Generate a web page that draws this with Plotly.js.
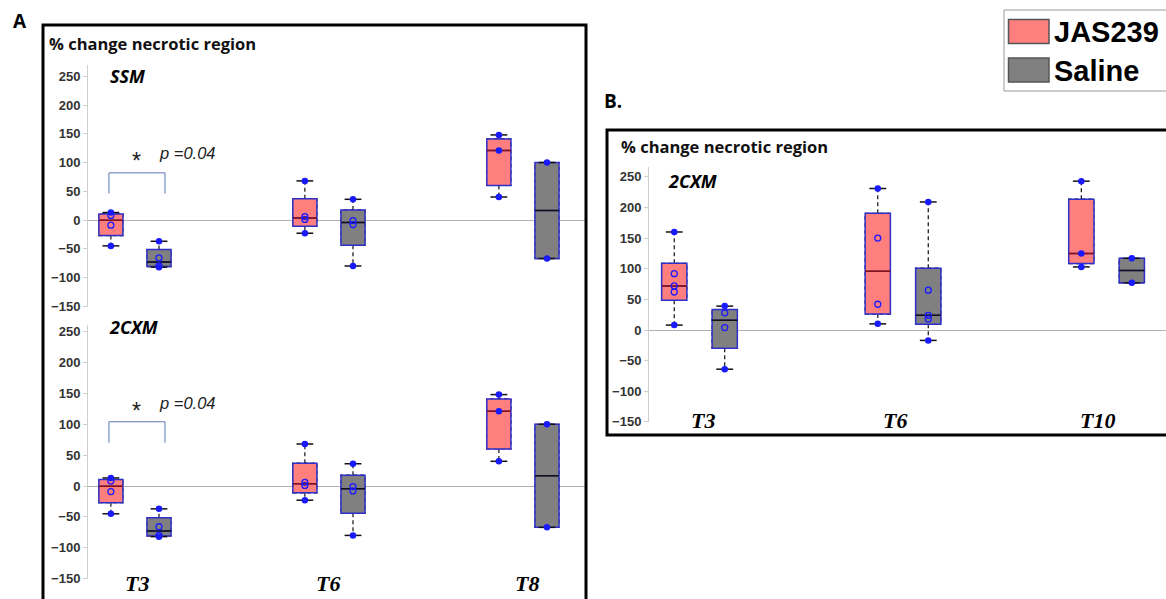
<!DOCTYPE html>
<html><head><meta charset="utf-8">
<script src="https://cdn.plot.ly/plotly-3.0.1.min.js"></script>
<style>html,body{margin:0;padding:0;background:#fff;} #chart{width:1166px;height:599px;}</style>
</head><body><div id="chart"></div>
<script>
// ---------- DATA ----------
const categoriesA = ['T3', 'T6', 'T8'];
const categoriesB = ['T3', 'T6', 'T10'];
const yTickVals = [-150, -100, -50, 0, 50, 100, 150, 200, 250];

// Panel A (SSM and 2CXM show the same values)
const jasA_q1 = [-27, -11, 60];
const jasA_median = [-0.5, 3.5, 121];
const jasA_q3 = [10.5, 37, 141];
const jasA_lower = [-45, -23, 40];
const jasA_upper = [13, 68, 148];
const jasA_filled = [[13, -45], [68, -23], [148, 121, 40]];
const jasA_open = [[8, -9], [6, 1], []];

const salA_q1 = [-81, -44, -67];
const salA_median = [-73, -4.5, 16.5];
const salA_q3 = [-51.5, 17.5, 100];
const salA_lower = [-82, -80, -67];
const salA_upper = [-37, 36, 100];
const salA_filled = [[-37, -82], [36, -80], [100, -67]];
const salA_open = [[-66, -80], [-1, -8], []];

// Panel B (2CXM)
const jasB_q1 = [48.5, 26, 108.5];
const jasB_median = [72, 96, 125];
const jasB_q3 = [109, 190.5, 213.5];
const jasB_lower = [8, 10, 103];
const jasB_upper = [160, 231, 243];
const jasB_filled = [[160, 8], [231, 10], [243, 125, 103]];
const jasB_open = [[92, 72, 62], [150, 42], []];

const salB_q1 = [-30, 9.25, 77];
const salB_median = [16, 24, 97];
const salB_q3 = [33.5, 101, 117];
const salB_lower = [-64, -17, 77];
const salB_upper = [39, 209, 117];
const salB_filled = [[39, -64], [209, -17], [117, 77]];
const salB_open = [[28, 4], [65, 24, 18], []];

// ---------- STYLE ----------
const W = 1166, H = 599;
const px = v => v / W;
const py = v => 1 - v / H;
const JAS_FILL = '#ff7f7f', SAL_FILL = '#808080';
const BOX_LINE = '#2e2ec8', PT_COLOR = '#1a1aff';

function group(xa, ya, cats, s, fill, medColor, og) {
  const base = {type: 'box', x: cats, xaxis: xa, yaxis: ya, orientation: 'v', offsetgroup: og,
                alignmentgroup: xa, hoverinfo: 'skip', showlegend: false};
  const stats = {q1: s.q1, median: s.median, q3: s.q3, lowerfence: s.lower, upperfence: s.upper};
  const inv = {line: {color: 'rgba(0,0,0,0)', width: 0}, fillcolor: 'rgba(0,0,0,0)'};
  return [
    Object.assign({}, base, stats, {meta: 'whisker', boxpoints: false, whiskerwidth: 0,
      line: {color: '#111', width: 1.2}, fillcolor: 'rgba(0,0,0,0)'}),
    Object.assign({}, base, {q1: s.q1, median: s.median, q3: s.q3, lowerfence: s.q1, upperfence: s.q3,
      boxpoints: false, whiskerwidth: 0, line: {color: BOX_LINE, width: 1.5}, fillcolor: fill}),
    Object.assign({}, base, {q1: s.median, median: s.median, q3: s.median, lowerfence: s.median, upperfence: s.median,
      boxpoints: false, whiskerwidth: 0, line: {color: medColor, width: 1.5}, fillcolor: 'rgba(0,0,0,0)'}),
    Object.assign({}, base, stats, inv, {y: s.lower.map((l, i) => [l, s.upper[i]]), boxpoints: 'all', jitter: 0, pointpos: 0,
      whiskerwidth: 0, marker: {symbol: 'line-ew', size: 12, color: '#111', line: {color: '#111', width: 1.5}}}),
    Object.assign({}, base, stats, inv, {y: s.filled, boxpoints: 'all', jitter: 0, pointpos: 0, whiskerwidth: 0,
      marker: {symbol: 'circle', size: 6.5, color: PT_COLOR}}),
    Object.assign({}, base, stats, inv, {y: s.open, boxpoints: 'all', jitter: 0, pointpos: 0, whiskerwidth: 0,
      marker: {symbol: 'circle-open', size: 6, color: PT_COLOR, line: {width: 1.3, color: PT_COLOR}}})
  ];
}

const A_jas = {q1: jasA_q1, median: jasA_median, q3: jasA_q3, lower: jasA_lower, upper: jasA_upper, filled: jasA_filled, open: jasA_open};
const A_sal = {q1: salA_q1, median: salA_median, q3: salA_q3, lower: salA_lower, upper: salA_upper, filled: salA_filled, open: salA_open};
const B_jas = {q1: jasB_q1, median: jasB_median, q3: jasB_q3, lower: jasB_lower, upper: jasB_upper, filled: jasB_filled, open: jasB_open};
const B_sal = {q1: salB_q1, median: salB_median, q3: salB_q3, lower: salB_lower, upper: salB_upper, filled: salB_filled, open: salB_open};

const traces = [].concat(
  group('x', 'y', categoriesA, A_jas, JAS_FILL, '#8b1010', 'jas'),
  group('x', 'y', categoriesA, A_sal, SAL_FILL, '#111111', 'sal'),
  group('x2', 'y2', categoriesA, A_jas, JAS_FILL, '#8b1010', 'jas'),
  group('x2', 'y2', categoriesA, A_sal, SAL_FILL, '#111111', 'sal'),
  group('x3', 'y3', categoriesB, B_jas, JAS_FILL, '#8b1010', 'jas'),
  group('x3', 'y3', categoriesB, B_sal, SAL_FILL, '#111111', 'sal')
);

function yax(domain, range, anchor) {
  return {domain, range, anchor, tickvals: yTickVals, showline: true, linecolor: '#cfcfcf', linewidth: 1,
    ticks: 'outside', ticklen: 4, tickcolor: '#cfcfcf',
    tickfont: {family: 'Liberation Sans, Arial', size: 13, color: '#333333', weight: 'bold'},
    zeroline: true, zerolinecolor: '#b0b0b0', zerolinewidth: 1, showgrid: false, fixedrange: true};
}
function xax(domain, range, anchor, cats) {
  return {domain, range, anchor, type: 'category', categoryarray: cats, showticklabels: false, ticks: '',
    showline: false, showgrid: false, zeroline: false, fixedrange: true};
}

const calibri = 'Open Sans, Lato, sans-serif';
function txt(x, y, text, font, xanchor) {
  return {xref: 'paper', yref: 'paper', x: px(x), y: py(y), text, showarrow: false,
    xanchor: xanchor || 'left', yanchor: 'middle', font};
}
const tFont = {family: 'Liberation Serif, Times New Roman, serif', size: 22, color: '#000', weight: 'bold', style: 'italic'};
function tLabel(xref, yref, x, y, text, xs) {
  return {xref, yref: 'paper', x, y: py(y), text, showarrow: false, xanchor: 'center', yanchor: 'middle', xshift: xs || 0, font: tFont};
}

const annotations = [
  txt(20, 21, 'A', {family: calibri, size: 19, color: '#000', weight: 'bold'}, 'center'),
  txt(613, 101, 'B.', {family: calibri, size: 19, color: '#000', weight: 'bold'}, 'center'),
  txt(47, 43, '% change necrotic region', {family: calibri, size: 16.5, color: '#111', weight: 'bold'}),
  txt(619, 146, '% change necrotic region', {family: calibri, size: 16.5, color: '#111', weight: 'bold'}),
  txt(108, 76, 'SSM', {family: calibri, size: 18, color: '#000', weight: 'bold', style: 'italic'}),
  txt(107, 327, '2CXM', {family: calibri, size: 18, color: '#000', weight: 'bold', style: 'italic'}),
  txt(666, 181, '2CXM', {family: calibri, size: 18, color: '#000', weight: 'bold', style: 'italic'}),
  txt(136, 161, '*', {family: 'Liberation Sans, Arial', size: 23, color: '#222'}, 'center'),
  txt(157, 153, 'p =0.04', {family: 'Liberation Sans, Arial', size: 16.5, color: '#222', style: 'italic'}),
  txt(136, 411, '*', {family: 'Liberation Sans, Arial', size: 23, color: '#222'}, 'center'),
  txt(157, 403, 'p =0.04', {family: 'Liberation Sans, Arial', size: 16.5, color: '#222', style: 'italic'}),
  tLabel('x2', 'paper', 'T3', 583, 'T3', 2),
  tLabel('x2', 'paper', 'T6', 583, 'T6', -1),
  tLabel('x2', 'paper', 'T8', 583, 'T8', 4),
  tLabel('x3', 'paper', 'T3', 420, 'T3', 4),
  tLabel('x3', 'paper', 'T6', 420, 'T6', -8),
  tLabel('x3', 'paper', 'T10', 420, 'T10', -9),
  txt(1052, 32, 'JAS239', {family: 'Liberation Sans, Arial', size: 29, color: '#000', weight: 'bold'}),
  txt(1052, 71, 'Saline', {family: 'Liberation Sans, Arial', size: 29, color: '#000', weight: 'bold'})
];

const bracketColor = '#5a78b0';
function bracket(xref, yref, yTop, yBot) {
  const l = -0.134, r = 0.155;
  const ln = {color: bracketColor, width: 1};
  return [
    {type: 'line', xref, yref, x0: l, x1: r, y0: yTop, y1: yTop, line: ln},
    {type: 'line', xref, yref, x0: l, x1: l, y0: yTop, y1: yBot, line: ln},
    {type: 'line', xref, yref, x0: r, x1: r, y0: yTop, y1: yBot, line: ln}
  ];
}

const shapes = [].concat(
  [{type: 'rect', xref: 'paper', yref: 'paper', x0: px(43), x1: px(586), y0: py(603), y1: py(25), line: {color: '#000', width: 3}},
   {type: 'rect', xref: 'paper', yref: 'paper', x0: px(607), x1: px(1172), y0: py(435), y1: py(130), line: {color: '#000', width: 3}},
   {type: 'rect', xref: 'paper', yref: 'paper', x0: px(1004), x1: px(1170), y0: py(91), y1: py(10), line: {color: '#9a9a9a', width: 1}},
   {type: 'rect', xref: 'paper', yref: 'paper', x0: px(1008.5), x1: px(1049), y0: py(43.5), y1: py(19.5), fillcolor: JAS_FILL, line: {color: '#555', width: 1.5}},
   {type: 'rect', xref: 'paper', yref: 'paper', x0: px(1008.5), x1: px(1049), y0: py(82), y1: py(58), fillcolor: SAL_FILL, line: {color: '#555', width: 1.5}}],
  bracket('x', 'y', 82, 46),
  bracket('x2', 'y2', 104, 70)
);

const layout = {
  width: W, height: H, margin: {l: 0, r: 0, t: 0, b: 0},
  paper_bgcolor: '#fff', plot_bgcolor: 'rgba(0,0,0,0)', showlegend: false,
  boxmode: 'group', boxgap: 0.504, boxgroupgap: 0.5,
  xaxis: xax([px(88), px(585)], [-0.242, 2.32], 'y', categoriesA),
  yaxis: yax([py(307), py(65)], [-151.3, 269.6], 'x'),
  xaxis2: xax([px(88), px(585)], [-0.242, 2.32], 'y2', categoriesA),
  yaxis2: yax([py(579), py(325)], [-150.6, 260.7], 'x2'),
  xaxis3: xax([px(649), 1], [-0.248, 2.292], 'y3', categoriesB),
  yaxis3: yax([py(422), py(167)], [-150.2, 266.1], 'x3'),
  annotations, shapes
};

Plotly.newPlot('chart', traces, layout, {staticPlot: true, displayModeBar: false}).then(gd => {
  gd.querySelectorAll('g.trace.boxes').forEach(g => {
    const cd = g.__data__;
    const tr = cd && cd[0] && cd[0].trace;
    if (tr && tr.meta === 'whisker') {
      g.querySelectorAll('path.box').forEach(p => { p.style.strokeDasharray = '4px,3px'; });
    }
  });
});
</script>
</body></html>
